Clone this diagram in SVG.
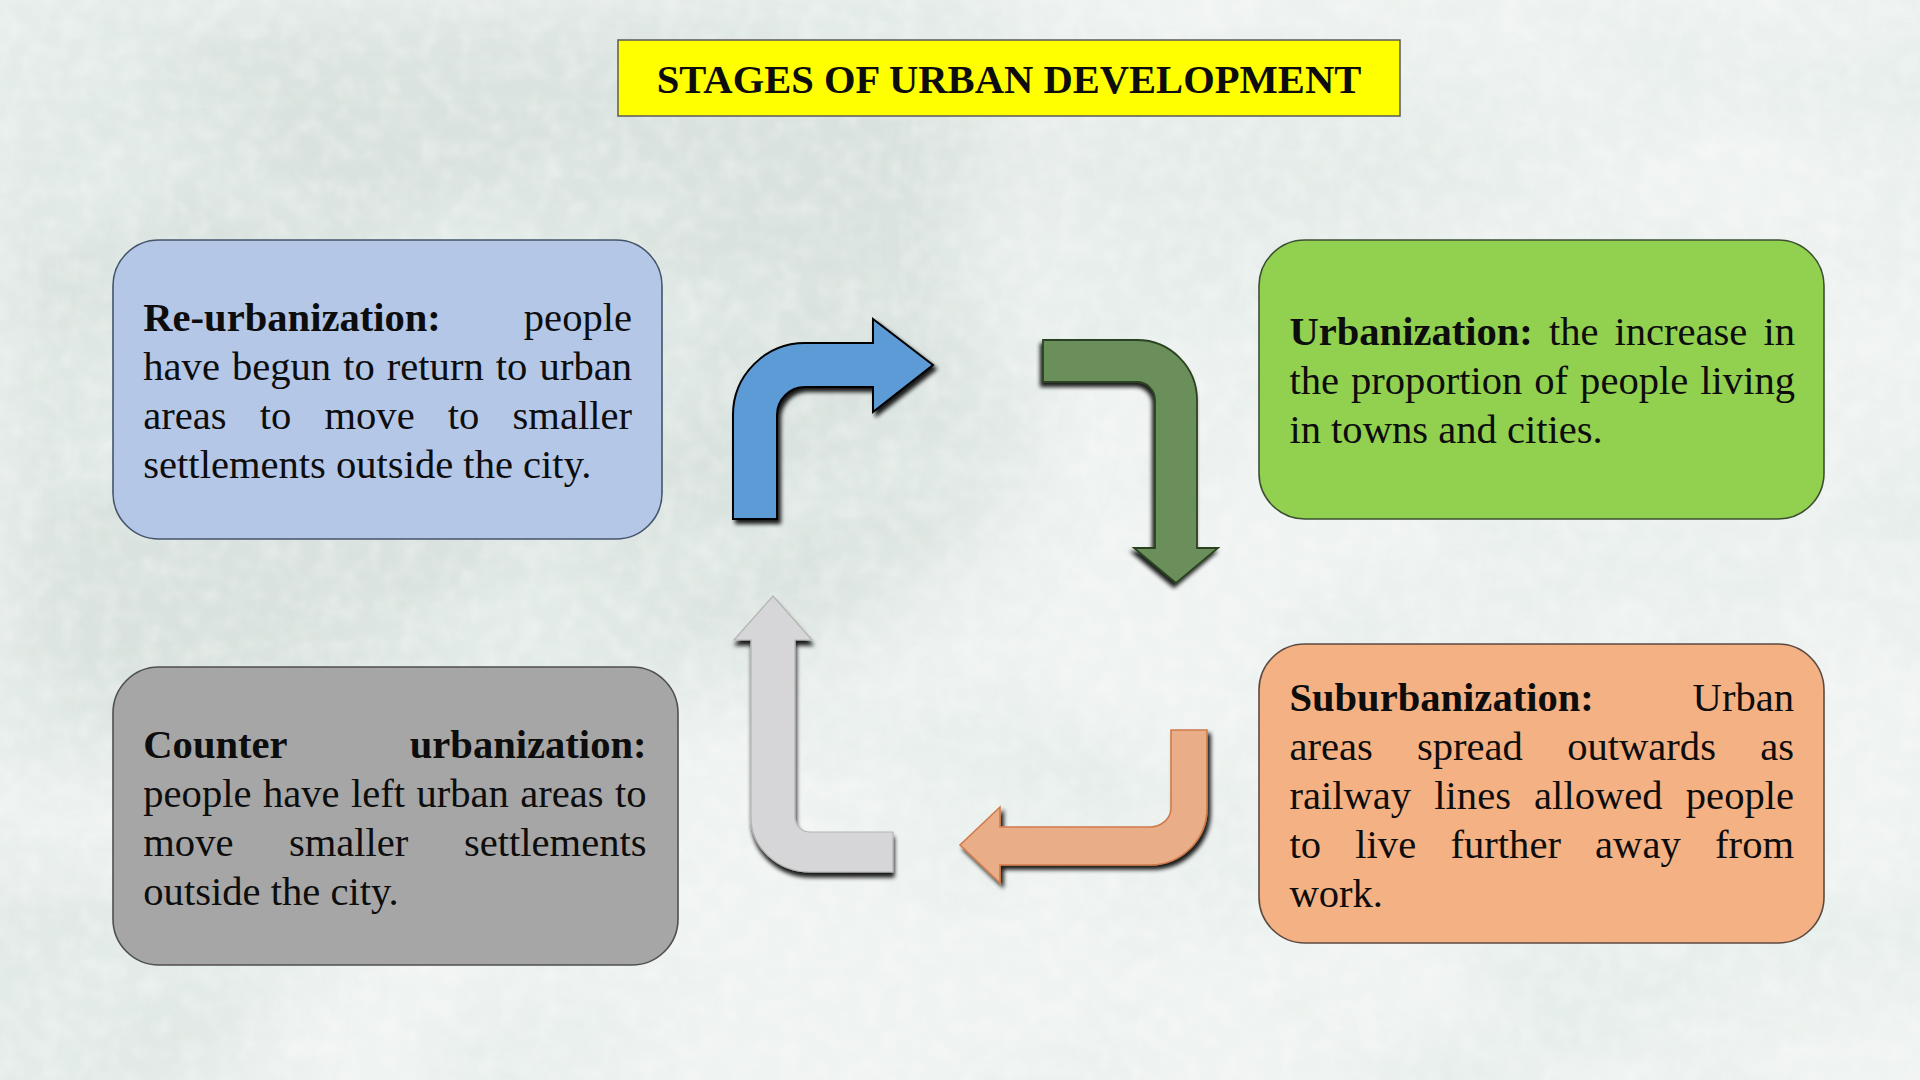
<svg xmlns="http://www.w3.org/2000/svg" width="1920" height="1080" viewBox="0 0 1920 1080">
  <style>
    .t { font-family: "Liberation Serif", "Times New Roman", serif; font-size: 40.6px; fill: #0d0d0d; }
    .b { font-weight: bold; }
    .e { text-anchor: end; }
    .box { stroke-width: 1.6; }
  </style>
  <defs>
    <filter id="clouds" x="0" y="0" width="1920" height="1080" filterUnits="userSpaceOnUse">
      <feTurbulence type="fractalNoise" baseFrequency="0.003 0.0045" numOctaves="5" seed="11" result="n"/>
      <feColorMatrix in="n" type="matrix" values="0 0 0 0 0.78  0 0 0 0 0.85  0 0 0 0 0.82  3.2 0 0 0 -1.35"/>
    </filter>
    <filter id="grain" x="0" y="0" width="1920" height="1080" filterUnits="userSpaceOnUse">
      <feTurbulence type="fractalNoise" baseFrequency="0.05" numOctaves="2" seed="3" result="n"/>
      <feColorMatrix in="n" type="matrix" values="0 0 0 0 1  0 0 0 0 1  0 0 0 0 1  1.6 0 0 0 -0.6"/>
    </filter>
    <filter id="soft" x="-30%" y="-30%" width="160%" height="160%">
      <feGaussianBlur stdDeviation="45"/>
    </filter>
    <filter id="shDR" x="-20%" y="-20%" width="140%" height="140%">
      <feGaussianBlur in="SourceAlpha" stdDeviation="2"/>
      <feOffset dx="3" dy="4" result="o"/>
      <feComponentTransfer><feFuncA type="linear" slope="0.9"/></feComponentTransfer>
      <feMerge><feMergeNode/><feMergeNode in="SourceGraphic"/></feMerge>
    </filter>
    <filter id="shDL" x="-20%" y="-20%" width="140%" height="140%">
      <feGaussianBlur in="SourceAlpha" stdDeviation="2"/>
      <feOffset dx="-2" dy="4" result="o"/>
      <feComponentTransfer><feFuncA type="linear" slope="0.9"/></feComponentTransfer>
      <feMerge><feMergeNode/><feMergeNode in="SourceGraphic"/></feMerge>
    </filter>
    <filter id="shD" x="-20%" y="-20%" width="140%" height="140%">
      <feGaussianBlur in="SourceAlpha" stdDeviation="2"/>
      <feOffset dx="1" dy="5" result="o"/>
      <feComponentTransfer><feFuncA type="linear" slope="0.9"/></feComponentTransfer>
      <feMerge><feMergeNode/><feMergeNode in="SourceGraphic"/></feMerge>
    </filter>
  </defs>

  <!-- background -->
  <rect x="0" y="0" width="1920" height="1080" fill="#eff3f1"/>
  <path d="M 0 0 L 980 0 C 1040 140 920 240 1010 360 C 1070 460 960 560 860 630 C 720 720 520 660 320 730 C 170 790 70 720 0 770 Z" fill="#d4dfda" opacity="0.8" filter="url(#soft)"/>
  <ellipse cx="60" cy="1000" rx="200" ry="110" fill="#d4dfda" opacity="0.7" filter="url(#soft)"/>
  <ellipse cx="1250" cy="170" rx="260" ry="90" fill="#dce5e1" opacity="0.6" filter="url(#soft)"/>
  <rect x="0" y="0" width="1920" height="1080" filter="url(#clouds)" opacity="0.8"/>
  <rect x="0" y="0" width="1920" height="1080" filter="url(#grain)" opacity="0.35"/>

  <!-- title -->
  <g id="title">
    <rect x="618" y="40" width="782" height="76" fill="#ffff00" stroke="#5a5a5a" stroke-width="1.5"/>
    <text class="t b" x="1009" y="93" text-anchor="middle">STAGES OF URBAN DEVELOPMENT</text>
  </g>

  <!-- Re-urbanization -->
  <g id="reurbanization">
    <rect class="box" x="113" y="240" width="549" height="299" rx="46" ry="46" fill="#b4c7e7" stroke="#44546a"/>
    <text class="t" y="331"><tspan class="b" x="143.3">Re-urbanization:</tspan></text>
    <text class="t e" x="632" y="331">people</text>
    <text class="t" y="380"><tspan x="143.3">have</tspan><tspan x="231.9">begun</tspan><tspan x="343.2">to</tspan><tspan x="386.8">return</tspan><tspan x="495.7">to</tspan></text>
    <text class="t e" x="632" y="380">urban</text>
    <text class="t" y="429"><tspan x="143.3">areas</tspan><tspan x="259.8">to</tspan><tspan x="324.5">move</tspan><tspan x="447.8">to</tspan></text>
    <text class="t e" x="632" y="429">smaller</text>
    <text class="t" x="143.3" y="478">settlements outside the city.</text>
  </g>

  <!-- Urbanization -->
  <g id="urbanization">
    <rect class="box" x="1259" y="240" width="565" height="279" rx="46" ry="46" fill="#92d050" stroke="#3c4f32"/>
    <text class="t" y="345"><tspan class="b" x="1289.4">Urbanization:</tspan><tspan x="1548.9">the</tspan><tspan x="1614.4">increase</tspan></text>
    <text class="t e" x="1795" y="345">in</text>
    <text class="t" y="394"><tspan x="1289.4">the</tspan><tspan x="1351">proportion</tspan><tspan x="1534.3">of</tspan><tspan x="1580.1">people</tspan></text>
    <text class="t e" x="1795" y="394">living</text>
    <text class="t" x="1289.4" y="443">in towns and cities.</text>
  </g>

  <!-- Counter urbanization -->
  <g id="counter-urbanization">
    <rect class="box" x="113" y="667" width="565" height="298" rx="46" ry="46" fill="#a6a6a6" stroke="#4f4f4f"/>
    <text class="t b" x="143.3" y="758">Counter</text>
    <text class="t b e" x="646.5" y="758">urbanization:</text>
    <text class="t" y="807"><tspan x="143.3">people</tspan><tspan x="262.9">have</tspan><tspan x="350.9">left</tspan><tspan x="416.4">urban</tspan><tspan x="520.3">areas</tspan></text>
    <text class="t e" x="646.5" y="807">to</text>
    <text class="t" y="856"><tspan x="143.3">move</tspan><tspan x="288.9">smaller</tspan></text>
    <text class="t e" x="646.5" y="856">settlements</text>
    <text class="t" x="143.3" y="905">outside the city.</text>
  </g>

  <!-- Suburbanization -->
  <g id="suburbanization">
    <rect class="box" x="1259" y="644" width="565" height="299" rx="46" ry="46" fill="#f4b183" stroke="#5c4a42"/>
    <text class="t b" x="1289.4" y="711">Suburbanization:</text>
    <text class="t e" x="1794" y="711">Urban</text>
    <text class="t" y="760"><tspan x="1289.4">areas</tspan><tspan x="1417">spread</tspan><tspan x="1567.2">outwards</tspan></text>
    <text class="t e" x="1794" y="760">as</text>
    <text class="t" y="809"><tspan x="1289.4">railway</tspan><tspan x="1434.3">lines</tspan><tspan x="1534.1">allowed</tspan></text>
    <text class="t e" x="1794" y="809">people</text>
    <text class="t" y="858"><tspan x="1289.4">to</tspan><tspan x="1355.3">live</tspan><tspan x="1450.5">further</tspan><tspan x="1595.1">away</tspan></text>
    <text class="t e" x="1794" y="858">from</text>
    <text class="t" x="1289.4" y="907">work.</text>
  </g>

  <!-- connectors -->
  <g id="connectors">
    <path id="arrow-blue" d="M 733 519 L 733 415 A 72 72 0 0 1 805 343 L 873 343 L 873 319 L 933 365 L 873 412 L 873 387 L 805 387 A 28 28 0 0 0 777 415 L 777 519 Z" fill="#5b9bd5" stroke="#000" stroke-width="2" filter="url(#shDR)"/>
    <path id="arrow-green" d="M 1043 340 L 1137 340 A 60 60 0 0 1 1197 400 L 1197 548 L 1218 548 L 1176 583 L 1134 548 L 1155 548 L 1155 400 A 18 18 0 0 0 1137 382 L 1043 382 Z" fill="#6a8f5a" stroke="#2b4322" stroke-width="1.8" filter="url(#shDL)"/>
    <path id="arrow-orange" d="M 1171 730 L 1207 730 L 1207 808 A 57 57 0 0 1 1150 865 L 1000 865 L 1000 883 L 960 845 L 1000 807 L 1000 827 L 1150 827 A 21 19 0 0 0 1171 808 Z" fill="#e9ad87" stroke="#cf7c4c" stroke-width="1.6" filter="url(#shDR)"/>
    <path id="arrow-gray" d="M 773 596 L 812 640 L 795 640 L 795 817 A 15 15 0 0 0 810 832 L 893 832 L 893 872 L 810 872 A 59 55 0 0 1 751 817 L 751 640 L 734 640 Z" fill="#d6d5d7" stroke="#b5b5b5" stroke-width="1.2" filter="url(#shD)"/>
  </g>
</svg>
